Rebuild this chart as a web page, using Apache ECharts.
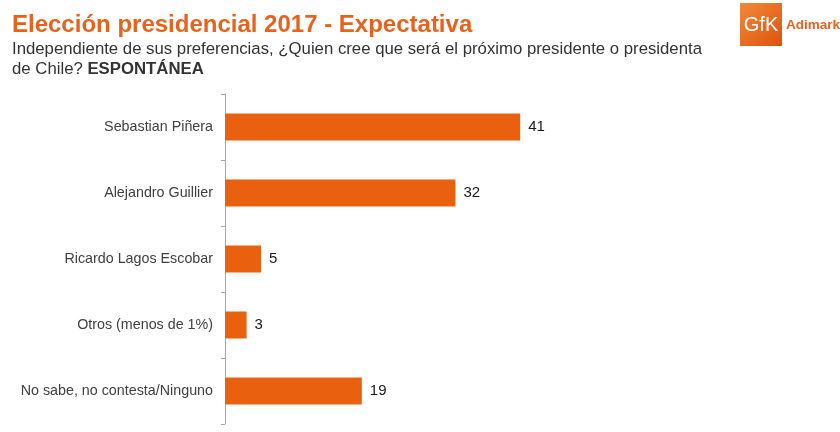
<!DOCTYPE html>
<html><head><meta charset="utf-8">
<script src="https://cdn.jsdelivr.net/npm/echarts@6/dist/echarts.min.js"></script>
<style>html,body{margin:0;padding:0;background:#fff}#c{width:840px;height:432px}</style>
</head><body><div id="c"></div>
<script>
const categories = ["Sebastian Piñera", "Alejandro Guillier", "Ricardo Lagos Escobar", "Otros (menos de 1%)", "No sabe, no contesta/Ninguno"];
const values = [41, 32, 5, 3, 19];

const chart = echarts.init(document.getElementById('c'));
chart.setOption({
  backgroundColor: '#fff',
  animation: false,
  title: {
    text: 'Elección presidencial 2017 - Expectativa',
    subtext: 'Independiente de sus preferencias, ¿Quien cree que será el próximo presidente o presidenta\nde Chile? {b|ESPONTÁNEA}',
    left: 12, top: 13, itemGap: 2, padding: 0,
    textStyle: { fontFamily: 'Liberation Sans, Arial', fontSize: 24, fontWeight: 'bold', color: '#E8621E' },
    subtextStyle: { fontFamily: 'Liberation Sans, Arial', fontSize: 16.75, color: '#333', lineHeight: 20,
      rich: { b: { fontFamily: 'Liberation Sans, Arial', fontSize: 16.75, fontWeight: 'bold', color: '#333', lineHeight: 20 } } }
  },
  graphic: [
    { type: 'rect', shape: { x: 740, y: 3, width: 42, height: 43 },
      style: { fill: new echarts.graphic.LinearGradient(0, 0, 1, 1, [{offset: 0, color: '#F08A3A'}, {offset: 1, color: '#E0520E'}]) } },
    { type: 'text', style: { x: 761, y: 25, text: 'GfK', fill: '#fff', font: '20px Liberation Sans Narrow, Liberation Sans, Arial', align: 'center', verticalAlign: 'middle' } },
    { type: 'text', style: { x: 786, y: 25, text: 'Adimark', fill: '#E8621E', font: 'bold 13.5px Liberation Sans, Arial', align: 'left', verticalAlign: 'middle' } }
  ],
  grid: { left: 225, top: 94, width: 432, height: 330 },
  xAxis: { type: 'value', min: 0, max: 60, show: false, splitLine: { show: false } },
  yAxis: {
    type: 'category', data: categories, inverse: true,
    axisLine: { show: true, lineStyle: { color: '#A8A8A8', width: 1 } },
    axisTick: { show: true, length: 4, lineStyle: { color: '#A8A8A8' } },
    axisLabel: { margin: 12, fontFamily: 'Liberation Sans, Arial', fontSize: 14.3, color: '#404040' }
  },
  series: [{
    type: 'bar', data: values, barWidth: 27,
    itemStyle: { color: '#E9610F' },
    label: { show: true, position: 'right', distance: 8, fontFamily: 'Liberation Sans, Arial', fontSize: 15, color: '#1a1a1a' }
  }]
});
</script></body></html>
